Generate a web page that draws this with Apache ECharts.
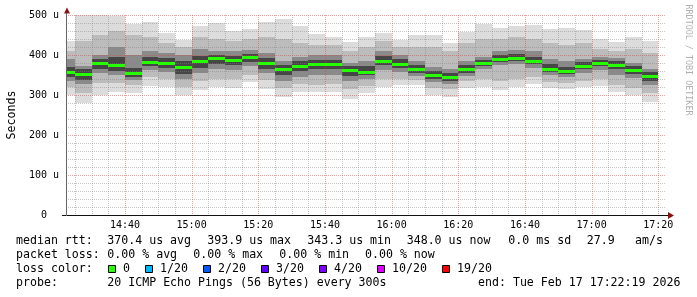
<!DOCTYPE html>
<html><head><meta charset="utf-8">
<script src="https://cdn.jsdelivr.net/npm/echarts@6/dist/echarts.min.js"></script>
<style>html,body{margin:0;padding:0;background:#fff}#c{width:697px;height:297px}</style>
</head><body><div id="c"></div>
<script>
// ---- data ----
const axisStart = '14:22:19';
const axisEnd = '17:22:19';
const stepEnds = ['14:25','14:30','14:35','14:40','14:45','14:50','14:55','15:00','15:05','15:10','15:15','15:20',
  '15:25','15:30','15:35','15:40','15:45','15:50','15:55','16:00','16:05','16:10','16:15','16:20',
  '16:25','16:30','16:35','16:40','16:45','16:50','16:55','17:00','17:05','17:10','17:15','17:20'];
const xTickLabels = ['14:40','15:00','15:20','15:40','16:00','16:20','16:40','17:00','17:20'];
// median rtt per step (µs)
const median = [357,352,380,374,356,382,380,369,385,392,387,394,379,364,373,378,378,362,358,384,378,364,350,344,364,380,391,393,386,366,360,373,380,375,363,348];
// smoke: ping distribution per step (µs)
const pingMin = [301,281,301,307,304,322,321,301,313,321,317,332,316,296,307,308,308,291,305,321,324,324,301,296,317,321,312,321,327,317,316,321,322,307,301,282];
const pingMax = [435,500,500,497,477,483,456,438,473,481,461,464,482,490,472,452,444,433,446,455,438,450,450,430,458,478,467,472,475,464,467,463,441,433,444,435];
const ping4  = [320,305,330,330,325,345,340,320,335,340,340,350,338,318,328,325,328,315,322,340,340,338,318,315,335,340,335,340,345,332,330,335,340,325,318,305];
const ping17 = [410,435,450,460,450,445,430,420,445,440,435,440,445,440,430,425,425,410,420,435,420,420,420,410,430,440,440,445,440,430,425,430,415,410,415,405];
const ping7  = [335,327,355,350,338,362,358,340,355,365,362,372,356,335,345,350,350,335,340,362,358,348,332,328,348,365,375,378,368,350,345,355,362,350,342,325];
const ping14 = [390,373,400,420,400,410,405,400,415,410,410,412,405,385,395,400,400,380,385,410,400,385,370,365,385,395,410,412,410,390,385,390,395,392,380,365];
const ping9  = [345,338,365,360,345,372,368,352,368,378,375,383,366,350,360,365,365,348,350,375,368,355,340,336,355,372,383,386,378,358,352,365,372,365,352,335];
const ping12 = [370,365,390,395,368,395,392,385,398,400,398,402,392,375,385,388,388,372,372,398,390,375,360,355,375,388,400,402,396,378,370,382,388,385,372,358];

// ---- helpers ----
function toMin(s){const p=s.split(':').map(Number);return p[0]*60+p[1]+(p[2]||0)/60;}
const xMin = toMin(axisStart), xMax = toMin(axisEnd);
const cols = stepEnds.map((e,i)=>[i===0?xMin:toMin(stepEnds[i-1]), toMin(e), i]);
const bands = [
  {lo:pingMin, hi:pingMax, c:'#dcdcdc'},
  {lo:ping4, hi:ping17, c:'#bcbcbc'},
  {lo:ping7, hi:ping14, c:'#8a8a8a'},
  {lo:ping9, hi:ping12, c:'#464646'}
];
const majorSet = xTickLabels.map(toMin);
const gridTimes = [];
for (let t = toMin('14:25'); t <= toMin('17:20'); t += 5) gridTimes.push([t, majorSet.includes(t) ? 1 : 0]);
const MONO = 'DejaVu Sans Mono';

const chart = echarts.init(document.getElementById('c'), null, {renderer:'canvas'});
const legendFont = 11.6;
function txt(x, y, s){return {type:'text', x:x, y:y, style:{text:s, fill:'#000', fontFamily:MONO, fontSize:legendFont, verticalAlign:'middle'}};}
const boxes = [
  ['#26ff00',108.5,'0',123],['#00b8ff',145.5,'1/20',160],['#0059ff',203.5,'2/20',218],
  ['#5e00ff',261.5,'3/20',276],['#7e00ff',319.5,'4/20',334],['#dd00ff',377.5,'10/20',392],['#ff0000',442.5,'19/20',457]
];
const graphics = [
  txt(16,241,'median rtt:'), txt(107.3,241,'370.4 us avg'), txt(207.3,241,'393.9 us max'), txt(307.3,241,'343.3 us min'),
  txt(406.7,241,'348.0 us now'), txt(508.3,241,'0.0 ms sd'), txt(586.7,241,'27.9'), txt(635,241,'am/s'),
  txt(16,255,'packet loss:'), txt(107.3,255,'0.00 % avg'), txt(193.3,255,'0.00 % max'), txt(279.3,255,'0.00 % min'), txt(365,255,'0.00 % now'),
  txt(16,269,'loss color:'),
  txt(16,283,'probe:'), txt(107.3,283,'20 ICMP Echo Pings (56 Bytes) every 300s'), txt(478,283,'end: Tue Feb 17 17:22:19 2026'),
  {type:'text', x:688, y:60, rotation:-Math.PI/2, style:{text:'RRDTOOL / TOBI OETIKER', fill:'#b0b0b0', fontFamily:MONO, fontSize:8.4, align:'center', verticalAlign:'middle'}},
  // axis arrow heads
  {type:'polygon', z:10, shape:{points:[[64,13.5],[70,13.5],[67,7.5]]}, style:{fill:'#8b1010'}},
  {type:'polygon', z:10, shape:{points:[[668,212],[668,219],[674,215.5]]}, style:{fill:'#8b1010'}},
  {type:'line', z:10, shape:{x1:62, y1:215.5, x2:668, y2:215.5}, style:{stroke:'#111', lineWidth:1}},
  {type:'line', z:10, shape:{x1:66.5, y1:13, x2:66.5, y2:216}, style:{stroke:'#666', lineWidth:1}}
];
boxes.forEach(b=>{
  graphics.push({type:'rect', shape:{x:b[1], y:265.5, width:7, height:7}, style:{fill:b[0], stroke:'#000', lineWidth:1}});
  graphics.push(txt(b[3],269,b[2]));
});

chart.setOption({
  animation:false,
  backgroundColor:'#fff',
  grid:{left:66, right:31, top:15, bottom:82, containLabel:false, outerBoundsMode:'none'},
  xAxis:{type:'value', min:xMin, max:xMax, z:6,
    axisLabel:{show:false}, axisTick:{show:false}, splitLine:{show:false},
    axisLine:{show:false}},
  yAxis:{type:'value', min:0, max:500, interval:100, z:3,
    name:'Seconds', nameLocation:'middle', nameRotate:90, nameGap:48,
    nameTextStyle:{fontFamily:MONO, fontSize:11.6, color:'#000'},
    axisLine:{show:false},
    axisTick:{show:false},
    axisLabel:{margin:7, fontFamily:MONO, fontSize:10, color:'#000', formatter:v=> v===0 ? '0  ' : v+' u'},
    splitLine:{show:true, lineStyle:{color:'rgba(225,60,60,0.5)', type:[1,1], width:1}},
    minorTick:{show:false, splitNumber:5},
    minorSplitLine:{show:true, lineStyle:{color:'rgba(128,128,128,0.45)', type:[1,1], width:1}}
  },
  graphic:graphics,
  series:[
    {type:'custom', name:'smoke', z:1, clip:true, data:cols,
      renderItem:(params, api)=>{
        const i = api.value(2);
        const x0 = Math.round(api.coord([api.value(0),0])[0]);
        const x1 = Math.round(api.coord([api.value(1),0])[0]);
        const children = bands.map(b=>{
          const yt = Math.round(api.coord([0,b.hi[i]])[1]);
          const yb = Math.round(api.coord([0,b.lo[i]])[1]);
          return {type:'rect', shape:{x:x0, y:yt, width:x1-x0, height:yb-yt}, style:{fill:b.c}};
        });
        return {type:'group', children};
      }},
    {type:'custom', name:'vgrid', z:3, clip:true, silent:true, data:gridTimes,
      renderItem:(params, api)=>{
        const x = Math.round(api.coord([api.value(0),0])[0]) + 0.5;
        const yb = api.coord([xMin,0])[1], yt = api.coord([xMin,500])[1];
        return {type:'line', shape:{x1:x, y1:yt, x2:x, y2:yb},
          style:{stroke: api.value(1) ? 'rgba(225,60,60,0.5)' : 'rgba(128,128,128,0.45)', lineWidth:1, lineDash:[1,1]}};
      }},
    {type:'custom', name:'median', z:4, clip:true, data:cols,
      renderItem:(params, api)=>{
        const i = api.value(2);
        const x0 = Math.round(api.coord([api.value(0),0])[0]);
        const x1 = Math.round(api.coord([api.value(1),0])[0]);
        const y = Math.round(api.coord([0,median[i]])[1]);
        return {type:'rect', shape:{x:x0, y:y-1, width:x1-x0, height:3}, style:{fill:'#26ff00'}};
      }},
    {type:'custom', name:'xlabels', z:5, clip:false, silent:true, data:xTickLabels.map(s=>[toMin(s), 0]),
      renderItem:(params, api)=>{
        const p = api.coord([api.value(0),0]);
        return {type:'text', x:p[0], y:p[1]+10,
          style:{text:xTickLabels[params.dataIndex], fill:'#000', fontFamily:MONO, fontSize:10, align:'center', verticalAlign:'middle'}};
      }}
  ]
});
</script></body></html>
